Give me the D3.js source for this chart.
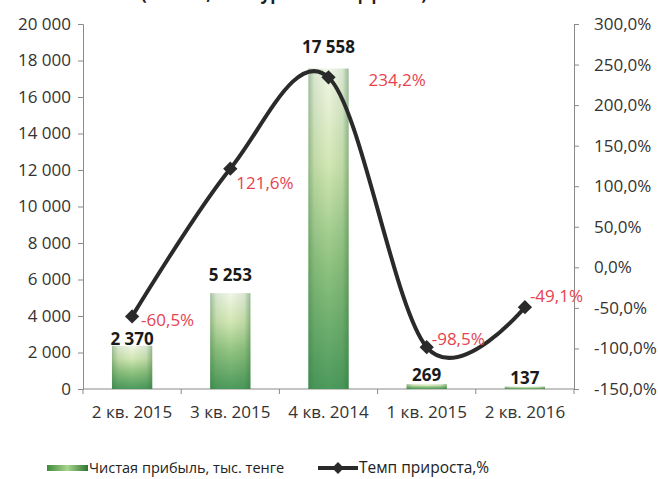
<!DOCTYPE html>
<html>
<head>
<meta charset="utf-8">
<script src="https://cdn.jsdelivr.net/npm/d3@7"></script>
<style>
  body { margin: 0; background: #fff; }
  svg { display: block; font-family: "Open Sans", sans-serif; }
</style>
</head>
<body>
<svg id="chart" width="658" height="479"></svg>
<script>
// data
const categories = ["2 кв. 2015", "3 кв. 2015", "4 кв. 2014", "1 кв. 2015", "2 кв. 2016"];
const profit = [2370, 5253, 17558, 269, 137];          // чистая прибыль, тыс. тенге
const growth = [-60.5, 121.6, 234.2, -98.5, -49.1];     // темп прироста, %
const profitTicks = d3.range(0, 20001, 2000);
const growthTicks = d3.range(-150, 301, 50);
const titleText = "(тыс. тг, без курсового эффекта)";
const legendNames = ["Чистая прибыль, тыс. тенге", "Темп прироста,%"];

const locale = d3.formatLocale({decimal: ",", thousands: " ", grouping: [3], currency: ["", ""], minus: "-"});
const fmtInt = locale.format(",d");
const fmtPct = v => locale.format(".1f")(v) + "%";

const svg = d3.select("#chart");
const plotL = 83, plotR = 574, plotT = 24, plotB = 389;

const x = d3.scaleBand().domain(categories).range([plotL, plotR]).padding(0);
const yL = d3.scaleLinear().domain([0, 20000]).range([plotB, plotT]);
const yR = d3.scaleLinear().domain([-150, 300]).range([plotB, plotT]);
const barW = x.bandwidth() * 0.41;
const cx = d => x(d) + x.bandwidth() / 2;

// gradients for the bars: pale top to green bottom, darker edges
const defs = svg.append("defs");
const gV = defs.append("linearGradient").attr("id", "barV")
  .attr("x1", 0).attr("y1", 0).attr("x2", 0).attr("y2", 1);
[[0, "#f1f6e6"], [0.3, "#d3e7b4"], [0.6, "#92c482"], [1, "#4c9a5c"]].forEach(([o, c]) =>
  gV.append("stop").attr("offset", o).attr("stop-color", c));
const gH = defs.append("linearGradient").attr("id", "barH");
[[0, 0.4], [0.15, 0.12], [0.5, 0], [0.85, 0.12], [1, 0.45]].forEach(([o, a]) =>
  gH.append("stop").attr("offset", o).attr("stop-color", "#2c6e38").attr("stop-opacity", a));
const gL = defs.append("linearGradient").attr("id", "legendFill");
[[0, "#3f8a3a"], [0.5, "#a9d58e"], [1, "#2f7430"]].forEach(([o, c]) =>
  gL.append("stop").attr("offset", o).attr("stop-color", c));

// title (cut off by the top edge, as in the picture)
svg.append("text").attr("x", 284).attr("y", 0).attr("text-anchor", "middle")
  .attr("font-weight", "bold").attr("font-size", 17).attr("fill", "#222").text(titleText);

// axes
const axisColor = "#8a8a8a";
const gl = svg.append("g").attr("transform", `translate(${plotL},0)`)
  .call(d3.axisLeft(yL).tickValues(profitTicks).tickSize(5).tickPadding(7).tickFormat(fmtInt));
const gr = svg.append("g").attr("transform", `translate(${plotR},0)`)
  .call(d3.axisRight(yR).tickValues(growthTicks).tickSize(5).tickPadding(15).tickFormat(fmtPct));
[gl, gr].forEach(g => {
  g.selectAll("path, line").attr("stroke", axisColor);
  g.selectAll("text").attr("font-size", 17).attr("fill", "#333").attr("font-family", "Open Sans");
});

const gx = svg.append("g");
gx.append("line").attr("x1", plotL).attr("x2", plotR).attr("y1", plotB).attr("y2", plotB)
  .attr("stroke", axisColor);
gx.selectAll("line.tk").data(categories.concat([null])).join("line").attr("class", "tk")
  .attr("x1", d => d === null ? plotR : x(d)).attr("x2", d => d === null ? plotR : x(d))
  .attr("y1", plotB).attr("y2", plotB + 5).attr("stroke", axisColor);
gx.selectAll("text").data(categories).join("text")
  .attr("x", cx).attr("y", plotB + 29).attr("text-anchor", "middle")
  .attr("font-size", 17).attr("fill", "#333").text(d => d);

// bars
const bars = svg.append("g");
categories.forEach((c, i) => {
  const bx = cx(c) - barW / 2, by = yL(profit[i]), bh = plotB - yL(profit[i]);
  bars.append("rect").attr("x", bx).attr("y", by).attr("width", barW).attr("height", bh).attr("fill", "url(#barV)");
  bars.append("rect").attr("x", bx).attr("y", by).attr("width", barW).attr("height", bh).attr("fill", "url(#barH)");
});

// bar value labels (lifted above the bar top as in the picture)
const barLift = [7, 18, 22, 9, 8];
svg.append("g").selectAll("text").data(categories).join("text")
  .attr("x", cx).attr("y", (d, i) => yL(profit[i]) - barLift[i] + 6)
  .attr("text-anchor", "middle").attr("font-weight", "bold").attr("font-size", 17).attr("fill", "#1a1a1a")
  .text((d, i) => fmtInt(profit[i]));

// growth line
const pts = categories.map((c, i) => [cx(c), yR(growth[i])]);
svg.append("path").attr("d", d3.line().curve(d3.curveCardinal.tension(0))(pts))
  .attr("fill", "none").attr("stroke", "#2a2a2a").attr("stroke-width", 4);
const diamond = d3.symbol(d3.symbolDiamond2, 130);
svg.append("g").selectAll("path").data(pts).join("path")
  .attr("transform", d => `translate(${d[0]},${d[1]})`).attr("d", diamond).attr("fill", "#2a2a2a");

// growth labels (placed next to markers as in the picture)
const pctOffset = [[9, 10], [6, 20], [40, 9], [5, -2], [5, -5]];
svg.append("g").selectAll("text").data(pts).join("text")
  .attr("x", (d, i) => d[0] + pctOffset[i][0]).attr("y", (d, i) => d[1] + pctOffset[i][1])
  .attr("font-size", 17).attr("fill", "#e8424f").text((d, i) => fmtPct(growth[i]));

// legend
const lg = svg.append("g");
lg.append("rect").attr("x", 47).attr("y", 465).attr("width", 41).attr("height", 6).attr("fill", "url(#legendFill)");
lg.append("text").attr("x", 89).attr("y", 473).attr("font-size", 14.5).attr("fill", "#222").text(legendNames[0]);
lg.append("line").attr("x1", 318).attr("x2", 358).attr("y1", 468).attr("y2", 468)
  .attr("stroke", "#2a2a2a").attr("stroke-width", 4);
lg.append("path").attr("transform", "translate(338,468)").attr("d", d3.symbol(d3.symbolDiamond2, 90)).attr("fill", "#2a2a2a");
lg.append("text").attr("x", 359).attr("y", 473).attr("font-size", 15.5).attr("fill", "#222").text(legendNames[1]);
</script>
</body>
</html>
